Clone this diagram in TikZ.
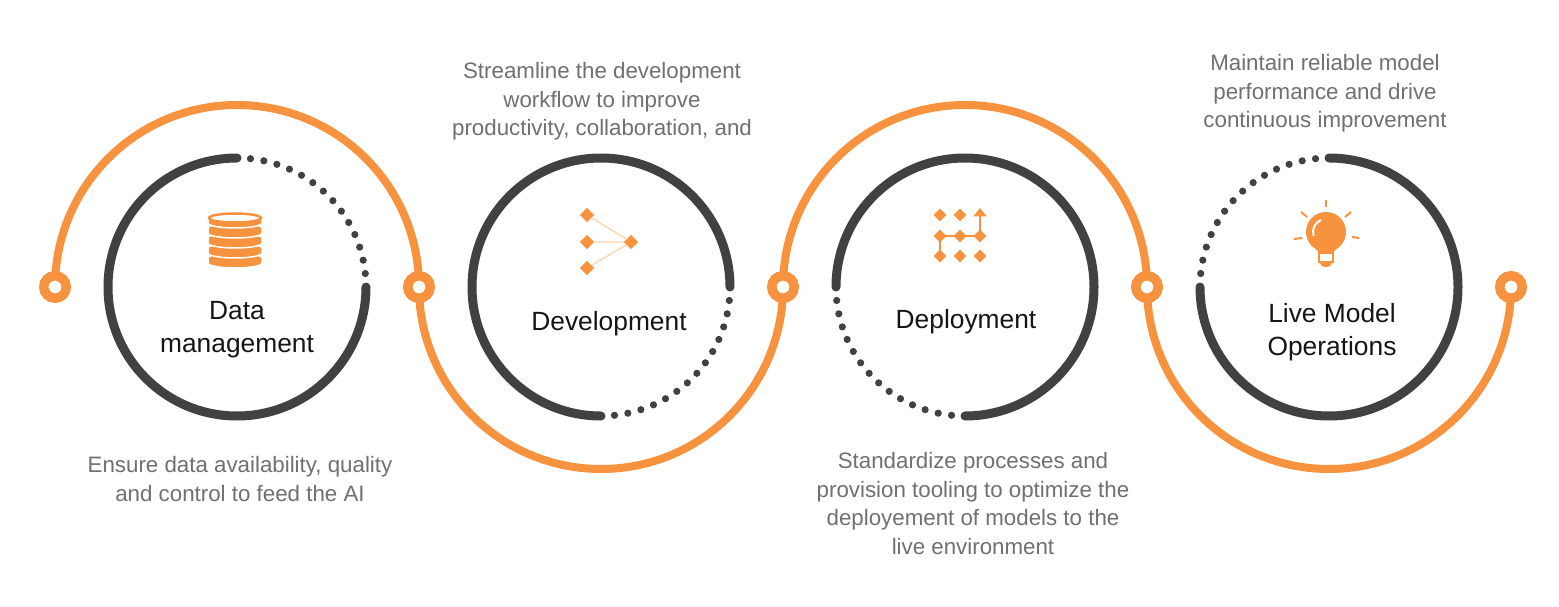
\documentclass[tikz,border=0pt]{standalone}
\usepackage{fontspec}
\setmainfont{Liberation Sans}
\usepackage{tikz}
\usetikzlibrary{arrows.meta}
\definecolor{trackc}{HTML}{F7923E}
\definecolor{ringc}{HTML}{414141}
\definecolor{descc}{HTML}{707070}
\definecolor{titlec}{HTML}{151515}
\definecolor{paleline}{HTML}{FBD2AE}

\begin{document}
\begin{tikzpicture}[x=0.02cm,y=0.02cm,
    track/.style={draw=trackc,line width=0.16cm},
    marker/.style={circle,draw=trackc,fill=white,line width=0.19cm,minimum size=0.45cm,inner sep=0pt},
    solidarc/.style={draw=ringc,line width=0.18cm,line cap=round},
    dotc/.style={fill=ringc},
    title/.style={anchor=north,align=center,inner sep=0pt,text=titlec,font=\fontsize{15}{18.7}\selectfont},
    desc/.style={anchor=north,align=center,inner sep=0pt,text=descc,font=\fontsize{12.7}{16.3}\selectfont},
    gem/.style={rectangle,rotate=45,fill=trackc,inner sep=0pt,minimum size=0.2cm},
    smallgem/.style={rectangle,rotate=45,fill=trackc,inner sep=0pt,minimum size=0.18cm}]
  \useasboundingbox (0,0) rectangle (1559,606);

  % orange track with its markers
  \foreach \i in {0,...,4} \coordinate (p\i) at (55+364*\i,319);
  \draw[track] (p0) arc (180:0:182) arc (180:360:182) arc (180:0:182) arc (180:360:182);
  \foreach \i in {0,...,4} \node (m\i) at (p\i) [marker] {};

  % the four rings
  \coordinate (data) at (237,319);
  \coordinate (dev) at (601,319);
  \coordinate (deploy) at (965,319);
  \coordinate (live) at (1329,319);
  \draw[solidarc] (data) ++(90:129) arc (90:360:129);
  \draw[solidarc] (dev) ++(0:129) arc (0:270:129);
  \draw[solidarc] (deploy) ++(180:129) arc (180:-90:129);
  \draw[solidarc] (live) ++(90:129) arc (90:-180:129);
  \foreach \a in {6,12,...,84} \fill[dotc] (data) ++(\a:129) circle (3.6);
  \foreach \a in {276,282,...,354} \fill[dotc] (dev) ++(\a:129) circle (3.6);
  \foreach \a in {186,192,...,264} \fill[dotc] (deploy) ++(\a:129) circle (3.6);
  \foreach \a in {96,102,...,174} \fill[dotc] (live) ++(\a:129) circle (3.6);

  % database icon
  \foreach \k in {4,3,2,1,0}
    \filldraw[fill=trackc,draw=white,line width=0.03cm]
      (208,388-10*\k) -- (208,383-10*\k) arc (180:360:27 and 5) -- (262,388-10*\k) arc (0:180:27 and 5) -- cycle;
  \filldraw[fill=white,draw=trackc,line width=0.05cm] (235,388) ellipse (26 and 4.5);

  % development icon
  \node (g1) at (587,391) [gem] {};
  \node (g2) at (587,364) [gem] {};
  \node (g3) at (587,338) [gem] {};
  \node (g4) at (631,364) [gem] {};
  \foreach \g in {g1,g2,g3} \draw[paleline,line width=0.025cm] (\g) -- (g4);

  % deployment icon
  \node (h1) at (940,391) [smallgem] {};
  \node (h2) at (960,391) [smallgem] {};
  \node (h4) at (940,370) [smallgem] {};
  \node (h5) at (960,370) [smallgem] {};
  \node (h6) at (980,370) [smallgem] {};
  \node (h7) at (940,350) [smallgem] {};
  \node (h8) at (960,350) [smallgem] {};
  \node (h9) at (980,350) [smallgem] {};
  \coordinate (h3) at (980,398);
  \draw[trackc,line width=0.055cm] (h4.center) -- (h6.center);
  \draw[trackc,line width=0.055cm] (h4.center) -- (h7.center);
  \draw[trackc,line width=0.055cm,-{Triangle[width=0.26cm,length=0.17cm]}] (h6.center) -- (h3);

  % bulb icon
  \fill[trackc] (1336,356.7) arc (-60:240:20) -- (1319,353) -- (1333,353) -- cycle;
  \draw[white,line width=0.04cm,line cap=round] (1326,374) ++(115:13) arc (115:195:13);
  \filldraw[fill=white,draw=trackc,line width=0.05cm] (1319,344) rectangle (1333,353);
  \fill[trackc] (1320,343) arc (180:360:6 and 4) -- cycle;
  \draw[trackc,line width=0.04cm] (1326,406) -- (1326,399);
  \draw[trackc,line width=0.04cm] (1301,394) -- (1307,389);
  \draw[trackc,line width=0.04cm] (1351,394) -- (1345,389);
  \draw[trackc,line width=0.04cm] (1294,367) -- (1302,368);
  \draw[trackc,line width=0.04cm] (1352,369) -- (1359,368);

  % titles
  \node (dataTitle) at (237,305) [title] {Data\\management};
  \node (devTitle) at (609,295) [title] {Development};
  \node (deployTitle) at (966,297) [title] {Deployment};
  \node (liveTitle) at (1332,303) [title] {Live Model\\Operations};

  % descriptions
  \node (dataText) at (240,150) [desc] {Ensure data availability, quality\\and control to feed the AI};
  \node (devText) at (602,544) [desc] {Streamline the development\\workflow to improve\\productivity, collaboration, and};
  \node (deployText) at (973,154) [desc] {Standardize processes and\\provision tooling to optimize the\\deployement of models to the\\live environment};
  \node (liveText) at (1325,552) [desc] {Maintain reliable model\\performance and drive\\continuous improvement};
\end{tikzpicture}
\end{document}
